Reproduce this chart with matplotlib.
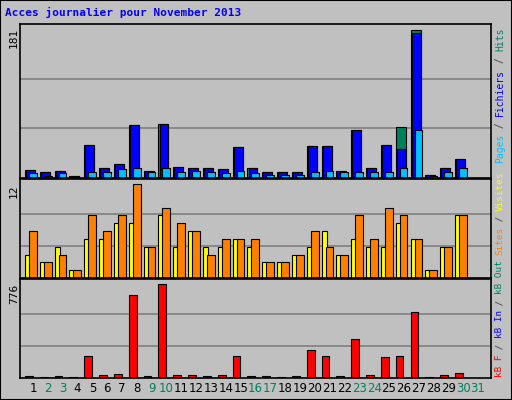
import matplotlib
matplotlib.use("Agg")
import matplotlib.pyplot as plt
from matplotlib.patches import Rectangle

days = list(range(1, 32))
weekend = [2, 3, 9, 10, 16, 17, 23, 24, 30, 31]

hits = [10, 7, 8, 2, 40, 12, 17, 65, 9, 66, 13, 12, 12, 11, 38, 12, 7, 7, 7, 39, 39, 8, 59, 12, 40, 62, 181, 4, 12, 23, 0]
files = [10, 7, 8, 2, 40, 12, 17, 65, 9, 66, 13, 12, 12, 11, 38, 12, 7, 7, 7, 39, 39, 8, 59, 12, 40, 35, 177, 4, 12, 23, 0]
pages = [6, 3, 6, 0, 7, 7, 11, 12, 7, 12, 7, 8, 7, 6, 8, 6, 4, 4, 4, 7, 8, 7, 7, 7, 7, 12, 59, 3, 7, 12, 0]
visits = [3, 2, 4, 1, 5, 5, 7, 7, 4, 8, 4, 6, 4, 4, 5, 4, 2, 2, 3, 4, 6, 3, 5, 4, 4, 7, 5, 1, 4, 8, 0]
sites = [6, 2, 3, 1, 8, 6, 8, 12, 4, 9, 7, 6, 3, 5, 5, 5, 2, 2, 3, 6, 4, 3, 8, 5, 9, 8, 5, 1, 4, 8, 0]
kbf = [20, 11, 20, 11, 181, 28, 37, 682, 20, 776, 28, 28, 20, 28, 181, 20, 20, 11, 20, 232, 181, 20, 325, 28, 173, 181, 546, 11, 28, 45, 0]

BG = "#C0C0C0"
W, H = 512, 400
fig = plt.figure(figsize=(W / 100, H / 100), dpi=100, facecolor=BG)

def px_axes(x0, y0, x1, y1):
    return fig.add_axes([x0 / W, 1 - y1 / H, (x1 - x0) / W, (y1 - y0) / H])

def style(ax, top):
    ax.set_facecolor(BG)
    ax.set_xlim(0.123, 31.88)
    ax.set_ylim(0, top)
    for s in ax.spines.values():
        s.set_linewidth(1.2)
        s.set_color("black")
    ax.set_xticks([])
    ax.set_yticks([])
    for f in (1 / 3, 2 / 3):
        ax.axhline(top * f * 0.965, color="#808080", lw=1.2, zorder=0)

def bars(ax, left, width, vals, color):
    x = [d + left for d in days]
    ax.bar(x, vals, width=width, align="edge", color=color, edgecolor="black", linewidth=0.8)

# top panel
ax1 = px_axes(20, 24, 491, 178)
style(ax1, 181 * 154 / 148)
bars(ax1, -0.54, 0.67, hits, "#00805C")
bars(ax1, -0.47, 0.60, files, "#0000FF")
bars(ax1, -0.27, 0.52, pages, "#00C0FF")

# middle panel
ax2 = px_axes(20, 179, 491, 278)
style(ax2, 12 * 98 / 93)
bars(ax2, -0.54, 0.34, visits, "#FFFF00")
bars(ax2, -0.27, 0.52, sites, "#FF8000")

# bottom panel
ax3 = px_axes(20, 279, 491, 378)
style(ax3, 776 * 98 / 93)
bars(ax3, -0.54, 0.52, kbf, "#FF0000")

for d in days:
    c = "#008060" if d in weekend else "black"
    ax3.text(d, -0.11, str(d), transform=ax3.get_xaxis_transform(), ha="center", va="center",
             fontsize=8.5, color=c)

mono = "DejaVu Sans Mono"
fig.text(5 / W, 1 - 12 / H, "Acces journalier pour November 2013", fontsize=8, fontweight="bold",
         family=mono, color="#0000FF", va="center")

for y, lab in [(28, "181"), (184, "12"), (284, "776")]:
    fig.text(14 / W, 1 - y / H, lab, rotation=90, fontsize=8, family=mono, ha="center", va="top")

renderer = fig.canvas.get_renderer()

def side_label(y_bottom, y_top, parts):
    # fit the whole label between y_bottom and y_top (pixels from top)
    n = sum(len(t) for t, _ in parts)
    cw = (y_bottom - y_top) / n
    fs = cw / (0.602 * 100 / 72)
    y = y_bottom
    for txt, col in parts:
        fig.text(500 / W, 1 - y / H, txt, rotation=90, fontsize=fs, family=mono, color=col,
                 ha="center", va="bottom")
        y -= cw * len(txt)

side_label(163, 28, [("Pages", "#00C0FF"), (" / ", "#404040"), ("Fichiers", "#0000FF"),
                     (" / ", "#404040"), ("Hits", "#008060")])
side_label(377, 172, [("kB F", "#FF0000"), (" / ", "#404040"), ("kB In", "#0000FF"), (" / ", "#404040"),
                      ("kB Out", "#008060"), (" ", "black"), ("Sites", "#FF8000"), (" / ", "#404040"),
                      ("Visites", "#FFFF00")])

fig.patches.append(Rectangle((0, 0), 1, 1, transform=fig.transFigure, fill=False,
                             edgecolor="black", linewidth=1.5))
fig.savefig("out.png", dpi=100, facecolor=BG)
